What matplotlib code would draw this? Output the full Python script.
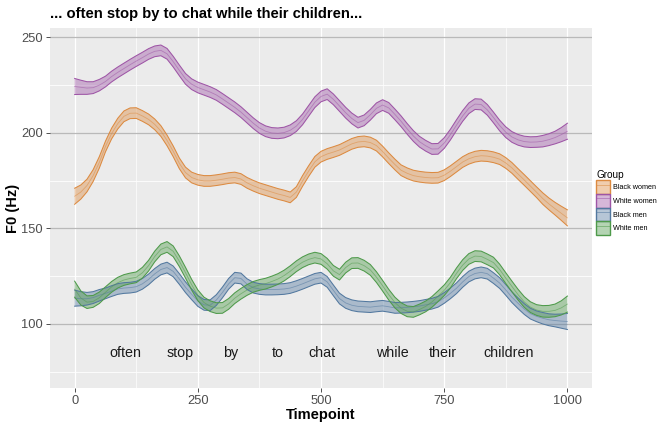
import matplotlib
matplotlib.use("Agg")
import matplotlib.pyplot as plt
from matplotlib.patches import Patch
from matplotlib.lines import Line2D

plt.rcParams['font.family'] = ['Liberation Sans', 'DejaVu Sans']

# Smoothed F0 contours (Hz), sampled every 12.5 normalised timepoints
timepoint = [i * 12.5 for i in range(81)]

black_women = [166.8, 169.0, 172.4, 177.6, 184.5, 192.8, 199.6, 204.8, 208.6, 210.2,
               210.3, 208.8, 207.0, 204.4, 200.9, 196.0, 190.3, 184.0, 179.2, 176.6,
               175.4, 174.8, 174.8, 175.2, 175.7, 176.3, 176.6, 175.8, 173.8, 172.3,
               171.0, 170.0, 169.0, 168.0, 167.2, 166.2, 169.0, 174.8, 180.0, 184.8,
               187.5, 188.9, 189.9, 191.0, 192.6, 194.2, 195.2, 195.5, 194.9, 193.3,
               190.2, 186.7, 183.4, 180.4, 178.8, 177.6, 177.0, 176.6, 176.4, 176.5,
               177.8, 179.9, 182.3, 184.7, 186.4, 187.5, 188.0, 187.8, 187.2, 186.2,
               184.2, 181.6, 178.4, 175.3, 172.1, 168.9, 165.6, 162.8, 160.3, 157.9,
               155.5]
white_women = [224.2, 223.8, 223.4, 223.6, 224.9, 226.8, 229.4, 231.6, 233.6, 235.6,
               237.5, 239.3, 241.2, 242.6, 243.1, 241.3, 237.2, 232.6, 228.2, 225.4,
               223.7, 222.5, 221.3, 219.8, 217.7, 215.5, 213.3, 210.8, 207.9, 205.0,
               202.5, 200.8, 199.9, 199.7, 200.1, 201.3, 203.5, 207.0, 211.5, 216.0,
               219.0, 220.2, 217.5, 214.0, 210.5, 207.5, 205.3, 206.5, 209.4, 212.8,
               214.5, 213.0, 209.6, 206.0, 202.0, 198.3, 195.3, 193.2, 191.5, 191.6,
               194.6, 199.0, 204.0, 208.8, 212.8, 215.0, 214.8, 212.0, 208.0, 203.8,
               200.3, 197.8, 196.3, 195.4, 195.1, 195.2, 195.6, 196.4, 197.5, 199.0,
               200.8]
black_men = [113.5, 113.2, 113.2, 113.8, 115.0, 116.0, 117.2, 118.3, 118.8, 119.0,
             119.5, 121.0, 123.3, 126.2, 128.5, 129.5, 127.5, 123.5, 119.2, 115.5,
             112.0, 110.0, 109.8, 112.5, 116.5, 121.0, 124.2, 123.8, 120.8, 119.0,
             118.3, 118.0, 118.0, 118.1, 118.3, 118.8, 119.8, 121.0, 122.3, 123.6,
             124.2, 122.0, 117.6, 113.3, 111.0, 109.8, 109.2, 109.0, 108.8, 109.2,
             109.5, 109.0, 108.4, 108.5, 108.7, 109.0, 109.4, 110.0, 110.6, 111.6,
             113.6, 116.0, 118.7, 122.0, 124.8, 126.4, 127.0, 126.3, 124.0, 121.4,
             117.8, 114.0, 110.8, 107.8, 105.4, 104.0, 103.0, 102.2, 101.8, 101.5,
             101.3]
white_men = [118.2, 113.6, 111.4, 111.8, 113.7, 116.6, 119.4, 121.6, 123.0, 123.8,
             124.4, 126.8, 130.5, 135.3, 139.0, 140.3, 138.0, 132.8, 126.8, 120.5,
             115.0, 111.2, 109.3, 108.3, 108.4, 110.5, 113.5, 115.8, 117.8, 119.4,
             120.4, 121.1, 122.2, 123.5, 125.3, 127.6, 130.2, 132.3, 133.8, 134.7,
             134.0, 131.5, 127.8, 125.8, 129.5, 131.8, 131.9, 130.5, 128.3, 124.5,
             120.0, 115.3, 111.2, 108.3, 106.6, 106.3, 107.6, 109.2, 111.5, 114.5,
             117.6, 121.6, 126.5, 130.8, 134.0, 135.5, 135.3, 133.8, 132.1, 128.5,
             124.0, 119.6, 115.3, 111.5, 108.8, 107.3, 106.6, 106.6, 107.1, 108.4,
             110.4]

# Half-width of the confidence ribbon (Hz), wider at the edges
ci_halfwidth = [4.2, 3.7, 3.3, 3.1, 3.0] + [2.8] * 71 + [3.0, 3.1, 3.3, 3.7, 4.2]

groups = ["Black women", "White women", "Black men", "White men"]
series = [black_women, white_women, black_men, white_men]
colors = ["#DC8A40", "#9E55A6", "#52789F", "#4E9A4A"]

words = ["often", "stop", "by", "to", "chat", "while", "their", "children"]
word_pos = [102, 213, 317, 412, 502, 644, 748, 880]
word_f0 = 85

fig = plt.figure(figsize=(6.6, 4.23), dpi=100)
ax = fig.add_axes([0.0758, 0.0827, 0.8212, 0.8511])
ax.set_facecolor("#EBEBEB")

ax.set_xlim(-50, 1050)
ax.set_ylim(66.5, 254.8)

# grid: white verticals and minor horizontals, grey major horizontals
for xv in range(0, 1001, 125):
    ax.axvline(xv, color="white", lw=0.9 if xv % 250 == 0 else 0.5, zorder=0)
for yv in [75, 125, 175, 225]:
    ax.axhline(yv, color="white", lw=0.6, zorder=0)
for yv in [100, 150, 200, 250]:
    ax.axhline(yv, color="#B9B9B9", lw=0.9, zorder=0.5)

for vals, col in zip(series, colors):
    lo = [v - h for v, h in zip(vals, ci_halfwidth)]
    hi = [v + h for v, h in zip(vals, ci_halfwidth)]
    ax.fill_between(timepoint, lo, hi, facecolor=col, alpha=0.42, lw=0, zorder=2)
    ax.plot(timepoint, lo, color=col, lw=0.75, zorder=3)
    ax.plot(timepoint, hi, color=col, lw=0.75, zorder=3)
    ax.plot(timepoint, vals, color=col, lw=0.6, alpha=0.55, zorder=3)

for w, p in zip(words, word_pos):
    ax.text(p, word_f0, w, ha="center", va="center", fontsize=10.3, color="#1A1A1A")

for s in ax.spines.values():
    s.set_visible(False)

ax.set_xticks([0, 250, 500, 750, 1000])
ax.set_yticks([100, 150, 200, 250])
ax.tick_params(axis="both", colors="#333333", length=3, width=0.6,
               labelsize=9.3, labelcolor="#4D4D4D", pad=2)

ax.set_xlabel("Timepoint", fontsize=10.5, fontweight="bold", labelpad=1)
ax.set_ylabel("F0 (Hz)", fontsize=10.5, fontweight="bold", labelpad=1)

fig.text(0.0758, 0.966, "... often stop by to chat while their children...",
         fontsize=10.6, fontweight="bold", ha="left", va="center")

handles = []
for col in colors:
    handles.append((Patch(facecolor=col, alpha=0.42, edgecolor="none"),
                    Patch(facecolor="none", edgecolor=col, lw=1.0),
                    Line2D([], [], color=col, lw=0.6, alpha=0.6)))
leg = ax.legend(handles, groups, title="Group", loc="upper left",
                bbox_to_anchor=(1.008, 0.605), frameon=False,
                fontsize=5.2, title_fontsize=7.2, handlelength=1.85,
                handleheight=2.55, labelspacing=0.0, handletextpad=0.45,
                borderaxespad=0.0, borderpad=0.0)
leg._legend_box.align = "left"

fig.savefig("out.png", dpi=100)
